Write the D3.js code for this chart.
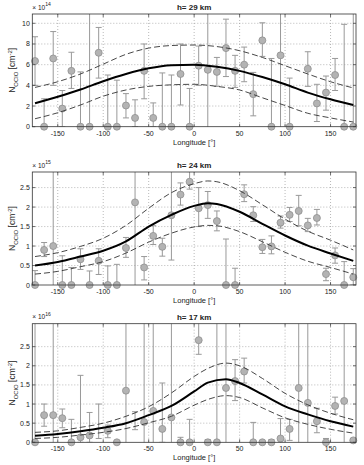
<!DOCTYPE html>
<html><head><meta charset="utf-8">
<script src="https://cdn.jsdelivr.net/npm/d3@7"></script>
<style>body{margin:0;background:#fff} svg{display:block} text{font-family:"Liberation Sans",Arial,sans-serif;fill:#222}</style>
</head><body><svg id="c" width="364" height="465"></svg>
<script>
// ---- data ----
const lon = [-175,-165,-155,-145,-135,-125,-115,-105,-95,-85,-75,-65,-55,-45,-35,-25,-15,-5,5,15,25,35,45,55,65,75,85,95,105,115,125,135,145,155,165,175];
const xTicks = [-150,-100,-50,0,50,100,150];

// h = 29 km  (x 10^14)
const title1 = "h= 29 km", exp1 = "14";
const yTicks1 = [0,2,4,6,8,10];
const val1 = [6.35,0,6.6,1.75,5.4,0,0,7.15,0,0,2.05,0.85,5.4,0.85,0,0,5.1,0,5.9,5.5,5.3,7.6,5.4,6.0,3.15,8.35,0,6.9,0,null,5.6,2.25,3.3,5.0,0,0];
const hi1  = [8.7,2.7,9.2,3.5,7.2,5.3,99,9.6,5.0,4.5,3.2,2.6,8.0,2.3,5.2,5.0,8.0,3.7,7.8,99,6.7,10.4,6.9,7.7,5.25,10.05,6.6,99,4.7,null,7.25,4.1,4.9,6.6,9.9,99];
const lo1  = [4.0,0,4.0,0,3.7,0,0,4.7,0,0,0.85,0,2.7,0,0,0,2.1,0,4.0,-1,3.9,4.85,3.8,4.35,1.05,6.8,0,-1,0,null,3.9,0.5,1.6,3.5,0,0];
const fitLon1 = [-175,-150,-125,-100,-75,-50,-25,0,25,50,75,100,125,150,175];
const fit1    = [2.26,2.9,3.6,4.4,5.1,5.65,5.95,6.0,5.8,5.4,4.8,4.1,3.3,2.65,2.1];
const fitHi1  = [3.8,4.35,5.1,6.05,7.0,7.6,7.85,7.9,7.75,7.35,6.7,5.9,5.1,4.35,3.75];
const fitLo1  = [0.77,1.35,2.1,2.95,3.55,3.9,4.05,4.1,3.9,3.55,2.8,2.05,1.3,0.85,0.45];

// h = 24 km  (x 10^15)
const title2 = "h= 24 km", exp2 = "15";
const yTicks2 = [0,0.5,1,1.5,2,2.5];
const val2 = [0,0.9,1.0,0,0,0.66,0,0.62,0,0,0.95,2.12,0.45,1.26,0.98,1.79,2.32,2.65,1.97,2.05,1.64,0,0,2.33,1.79,0.97,0.99,1.6,1.8,1.9,1.53,1.72,0.28,0.76,0,0.2];
const hi2  = [0.37,1.09,99,0.75,0.45,0.93,0.36,0.93,0.49,0.53,1.22,99,0.73,1.52,1.2,99,2.62,2.91,2.5,2.4,1.9,1.18,0.43,2.57,2.01,1.17,1.26,1.77,1.99,2.3,1.71,1.94,0.43,0.95,0.6,0.42];
const lo2  = [0,0.73,-1,0,0,0.4,0,0.27,0,0,0.71,-1,0.13,1.04,0.74,0.64,2.05,2.46,1.5,1.71,1.39,0,0,2.14,1.63,0.81,0.8,1.46,1.63,1.52,1.37,1.54,0.11,0.56,0,0];
const fitLon2 = [-175,-150,-125,-100,-75,-50,-25,0,15,25,50,75,100,125,150,175];
const fit2    = [0.5,0.59,0.73,0.88,1.12,1.5,1.8,2.03,2.1,2.08,1.88,1.57,1.27,1.01,0.81,0.62];
const fitHi2  = [0.73,0.83,0.99,1.2,1.53,1.97,2.37,2.6,2.67,2.65,2.42,2.06,1.69,1.38,1.15,0.9];
const fitLo2  = [0.28,0.35,0.47,0.6,0.82,1.1,1.33,1.49,1.53,1.52,1.37,1.11,0.84,0.61,0.45,0.28];

// h = 17 km  (x 10^16)
const title3 = "h= 17 km", exp3 = "16";
const yTicks3 = [0,0.5,1,1.5,2,2.5];
const val3 = [0,0.71,0.71,0.63,0,0.13,0.18,null,0.3,0,1.35,null,0.53,0.82,0.35,0.65,0,0,2.67,0,0,1.42,1.6,1.85,0,0,0,0.1,0.35,1.42,1.03,0.55,0,0.95,1.08,0.05];
const hi3  = [99,1.0,99,0.87,0.6,1.75,0.78,1.0,0.45,0,99,0.8,99,99,1.55,99,0.13,0.6,3.3,0.07,99,99,2.16,2.2,0.52,0.03,0.07,0.62,0.6,99,99,0.89,0.1,1.18,99,0.1];
const lo3  = [-1,0.42,-1,0.38,0,0,0,0.1,0.12,0,-1,0.33,-1,-1,0,-1,0,0,2.3,0,-1,-1,1.09,1.55,0,0,0,0,0.05,-1,-1,0.25,0,0.74,-1,0];
const fitLon3 = [-175,-150,-125,-100,-75,-50,-25,0,15,35,50,75,100,125,150,175];
const fit3    = [0.17,0.22,0.29,0.38,0.5,0.71,0.95,1.33,1.56,1.65,1.55,1.25,0.94,0.73,0.55,0.41];
const fitHi3  = [0.26,0.3,0.39,0.5,0.68,0.93,1.29,1.72,1.93,2.07,2.0,1.67,1.28,0.98,0.76,0.59];
const fitLo3  = [0.1,0.13,0.19,0.26,0.36,0.51,0.68,0.97,1.12,1.22,1.17,0.9,0.64,0.47,0.34,0.24];

// ---- layout ----
const panels = [
  {title:title1, exp:exp1, yTicks:yTicks1, val:val1, hi:hi1, lo:lo1, fl:fitLon1, f:fit1, fh:fitHi1, flo:fitLo1, top:14, bottom:126.7, ymax:10.9},
  {title:title2, exp:exp2, yTicks:yTicks2, val:val2, hi:hi2, lo:lo2, fl:fitLon2, f:fit2, fh:fitHi2, flo:fitLo2, top:172, bottom:285, ymax:2.9},
  {title:title3, exp:exp3, yTicks:yTicks3, val:val3, hi:hi3, lo:lo3, fl:fitLon3, f:fit3, fh:fitHi3, flo:fitLo3, top:323.7, bottom:442.3, ymax:3.1}
];
const L = 32.3, R = 356;
const svg = d3.select("#c");
const x = d3.scaleLinear().domain([-178,178]).range([L,R]);

panels.forEach((p,i)=>{
  const y = d3.scaleLinear().domain([0,p.ymax]).range([p.bottom,p.top]);
  const g = svg.append("g");
  const cid = "clip"+i;
  svg.append("clipPath").attr("id",cid).append("rect")
    .attr("x",L).attr("y",p.top).attr("width",R-L).attr("height",p.bottom-p.top);
  // grid
  const grid = g.append("g").attr("stroke","#8a8a8a").attr("stroke-width",0.6).attr("stroke-dasharray","1,2");
  xTicks.forEach(t=>grid.append("line").attr("x1",x(t)).attr("x2",x(t)).attr("y1",p.top).attr("y2",p.bottom));
  p.yTicks.forEach(t=>{ if(t>0) grid.append("line").attr("x1",L).attr("x2",R).attr("y1",y(t)).attr("y2",y(t)); });
  // data
  const dg = g.append("g").attr("clip-path",`url(#${cid})`);
  lon.forEach((ln,j)=>{
    if(p.hi[j]==null) return;
    const cx = x(ln);
    const yh = y(p.hi[j]), yl = y(p.lo[j]);
    dg.append("line").attr("x1",cx).attr("x2",cx).attr("y1",yh).attr("y2",yl)
      .attr("stroke","#999").attr("stroke-width",1);
    [yh,yl].forEach(yy=>dg.append("line").attr("x1",cx-3).attr("x2",cx+3).attr("y1",yy).attr("y2",yy)
      .attr("stroke","#999").attr("stroke-width",1));
  });
  lon.forEach((ln,j)=>{
    if(p.val[j]==null) return;
    g.append("circle").attr("cx",x(ln)).attr("cy",y(p.val[j])).attr("r",3.5)
      .attr("fill","#b3b3b3").attr("stroke","#8f8f8f").attr("stroke-width",0.8);
  });
  // fits
  const line = d3.line().x(d=>x(d[0])).y(d=>y(d[1])).curve(d3.curveMonotoneX);
  const mk = arr => p.fl.map((l,k)=>[l,arr[k]]);
  g.append("path").attr("d",line(mk(p.fh))).attr("fill","none").attr("stroke","#333").attr("stroke-width",0.9).attr("stroke-dasharray","6,3");
  g.append("path").attr("d",line(mk(p.flo))).attr("fill","none").attr("stroke","#333").attr("stroke-width",0.9).attr("stroke-dasharray","6,3");
  g.append("path").attr("d",line(mk(p.f))).attr("fill","none").attr("stroke","#000").attr("stroke-width",2);
  // box
  g.append("rect").attr("x",L).attr("y",p.top).attr("width",R-L).attr("height",p.bottom-p.top)
    .attr("fill","none").attr("stroke","#333").attr("stroke-width",0.8);
  // ticks (inside)
  const tk = g.append("g").attr("stroke","#333").attr("stroke-width",0.7);
  xTicks.forEach(t=>{
    tk.append("line").attr("x1",x(t)).attr("x2",x(t)).attr("y1",p.bottom).attr("y2",p.bottom-3);
    tk.append("line").attr("x1",x(t)).attr("x2",x(t)).attr("y1",p.top).attr("y2",p.top+3);
  });
  p.yTicks.forEach(t=>{
    tk.append("line").attr("x1",L).attr("x2",L+3).attr("y1",y(t)).attr("y2",y(t));
    tk.append("line").attr("x1",R).attr("x2",R-3).attr("y1",y(t)).attr("y2",y(t));
  });
  // tick labels
  xTicks.forEach(t=>g.append("text").attr("x",x(t)).attr("y",p.bottom+9).attr("text-anchor","middle")
    .attr("font-size",7).text(t));
  p.yTicks.forEach(t=>g.append("text").attr("x",L-2.5).attr("y",y(t)+2.5).attr("text-anchor","end")
    .attr("font-size",7).text(t));
  // exponent
  const ex = g.append("text").attr("x",L).attr("y",p.top-4.5).attr("font-size",6.5);
  ex.append("tspan").text("\u00d7 10");
  ex.append("tspan").attr("dy",-3.5).attr("font-size",5).text(p.exp);
  // title
  g.append("text").attr("x",(L+R)/2).attr("y",p.top-4).attr("text-anchor","middle")
    .attr("font-size",8).attr("font-weight","bold").text(p.title);
  // x label
  g.append("text").attr("x",(L+R)/2).attr("y",p.bottom+18).attr("text-anchor","middle")
    .attr("font-size",7.5).text("Longitude [\u00b0]");
  // y label
  const yl = g.append("text").attr("transform",`translate(15,${(p.top+p.bottom)/2}) rotate(-90)`)
    .attr("text-anchor","middle").attr("font-size",8.5);
  yl.append("tspan").text("N");
  yl.append("tspan").attr("dy",2.5).attr("font-size",6).text("OClO");
  yl.append("tspan").attr("dy",-2.5).text(" [cm");
  yl.append("tspan").attr("dy",-3.5).attr("font-size",6).text("-2");
  yl.append("tspan").attr("dy",3.5).text("]");
});
</script></body></html>
